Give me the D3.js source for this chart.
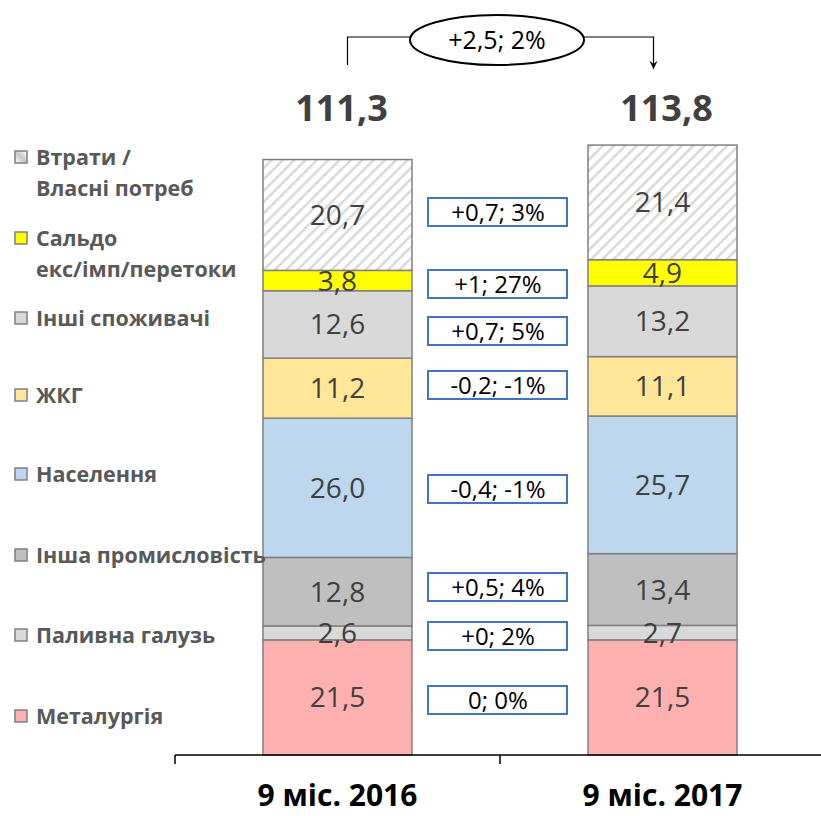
<!DOCTYPE html>
<html><head><meta charset="utf-8">
<script src="https://cdn.jsdelivr.net/npm/d3@7"></script>
<style>body{margin:0;background:#fff}svg{display:block}</style>
</head><body>
<svg id="c" width="821" height="816"></svg>
<script>
const categories = ["9 міс. 2016", "9 міс. 2017"];
const seriesNames = ["Металургія","Паливна галузь","Інша промисловість","Населення","ЖКГ","Інші споживачі","Сальдо екс/імп/перетоки","Втрати / Власні потреб"];
const values2016 = [21.5, 2.6, 12.8, 26.0, 11.2, 12.6, 3.8, 20.7];
const values2017 = [21.5, 2.7, 13.4, 25.7, 11.1, 13.2, 4.9, 21.4];
const totals = [111.3, 113.8];
const deltas = ["0; 0%","+0; 2%","+0,5; 4%","-0,4; -1%","-0,2; -1%","+0,7; 5%","+1; 27%","+0,7; 3%"];
const totalDelta = "+2,5; 2%";
const legendLines = [["Металургія"],["Паливна галузь"],["Інша промисловість"],["Населення"],["ЖКГ"],["Інші споживачі"],["Сальдо","екс/імп/перетоки"],["Втрати /","Власні потреб"]];
const colors = ["#FFB0B0","#D9D9D9","#BFBFBF","#BDD7EE","#FFE699","#D9D9D9","#FFFF00","url(#hatch)"];

const FONT = "'Open Sans', sans-serif";
const svg = d3.select("#c");
const defs = svg.append("defs");
const pat = defs.append("pattern").attr("id","hatch").attr("patternUnits","userSpaceOnUse")
  .attr("width",8).attr("height",8).attr("patternTransform","rotate(45)");
pat.append("rect").attr("width",8).attr("height",8).attr("fill","#fff");
pat.append("line").attr("x1",0).attr("y1",0).attr("x2",0).attr("y2",8).attr("stroke","#D9D9D9").attr("stroke-width",5);
const patL = defs.append("linearGradient").attr("id","hatchL").attr("x1",0).attr("y1",1).attr("x2",1).attr("y2",0);
patL.append("stop").attr("offset","0").attr("stop-color","#fff");
patL.append("stop").attr("offset","0.5").attr("stop-color","#C8C8C8");
patL.append("stop").attr("offset","1").attr("stop-color","#fff");

const x = d3.scaleBand().domain(categories).range([175, 825]).paddingInner(0).paddingOuter(0);
const barW = 149;
const y = d3.scaleLinear().domain([0, 111.3]).range([755, 159]);

const data = [values2016, values2017];
data.forEach((vals, ci) => {
  const cx = x(categories[ci]) + x.bandwidth()/2;
  let cum = 0;
  const segs = vals.map((v,i)=>{const s={v,i,y0:cum,y1:cum+v}; cum+=v; return s;});
  const g = svg.append("g");
  g.selectAll("rect").data(segs).join("rect")
    .attr("x", cx - barW/2).attr("width", barW)
    .attr("y", d=>y(d.y1)).attr("height", d=>y(d.y0)-y(d.y1))
    .attr("fill", d=>colors[d.i]).attr("stroke","#808080").attr("stroke-width",1.5);
  g.selectAll("text").data(segs).join("text")
    .attr("x", cx).attr("y", d=>(y(d.y0)+y(d.y1))/2 + 10)
    .attr("text-anchor","middle")
    .attr("font-family",FONT).attr("font-size",28).attr("fill","#404040")
    .text(d=>d.v.toFixed(1).replace(".",","));
  svg.append("text").attr("x", cx+4).attr("y", 121).attr("text-anchor","middle")
    .attr("font-family",FONT).attr("font-weight","bold").attr("font-size",36).attr("fill","#404040")
    .text(totals[ci].toFixed(1).replace(".",","));
});

// delta boxes
const midX = 497;
const dY = [700, 636, 587, 489, 385, 331, 284, 212];
deltas.forEach((t,i)=>{
  svg.append("rect").attr("x", midX-69).attr("y", dY[i]-14).attr("width",139).attr("height",28)
    .attr("fill","#fff").attr("stroke","#4472C4").attr("stroke-width",2);
  svg.append("text").attr("x", midX+1).attr("y", dY[i]+9).attr("text-anchor","middle")
    .attr("font-family",FONT).attr("font-size",24).attr("fill","#000").text(t);
});

// axis
const axisG = svg.append("g").attr("transform","translate(0,755)");
axisG.append("line").attr("x1",175).attr("x2",821).attr("stroke","#000").attr("stroke-width",1.5);
[175, 500, 825].forEach(t=>axisG.append("line").attr("x1",t).attr("x2",t).attr("y1",0).attr("y2",9).attr("stroke","#000").attr("stroke-width",1.5));
categories.forEach(c=>{
  svg.append("text").attr("x", x(c)+x.bandwidth()/2).attr("y", 806).attr("text-anchor","middle")
    .attr("font-family",FONT).attr("font-weight","bold").attr("font-size",30).attr("fill","#000").text(c);
});

// legend
const legY = [716, 635, 555, 474, 395, 318, 238, 157];
legendLines.forEach((lines,i)=>{
  svg.append("rect").attr("x",15).attr("y",legY[i]-6).attr("width",12).attr("height",12)
    .attr("fill",colors[i]==="url(#hatch)"?"url(#hatchL)":colors[i]).attr("stroke","#808080").attr("stroke-width",1.5);
  lines.forEach((l,j)=>{
    svg.append("text").attr("x",36).attr("y",legY[i]+j*31+7.5)
      .attr("font-family",FONT).attr("font-weight","bold").attr("font-size",21.5).attr("fill","#595959").text(l);
  });
});

// top connector
defs.append("marker").attr("id","arr").attr("viewBox","0 0 10 10").attr("refX",10).attr("refY",5)
  .attr("markerWidth",7).attr("markerHeight",9).attr("orient","auto")
  .append("path").attr("d","M0,0 L10,5 L0,10 L4,5 Z").attr("fill","#000");
const x1 = x(categories[0])+x.bandwidth()/2+10, x2 = x(categories[1])+x.bandwidth()/2-9;
svg.append("path").attr("d",`M${x1},65 V37 H${midX}`).attr("fill","none").attr("stroke","#000").attr("stroke-width",1.2);
svg.append("path").attr("d",`M${midX},37 H${x2} V69`).attr("fill","none").attr("stroke","#000").attr("stroke-width",1.2).attr("marker-end","url(#arr)");
svg.append("ellipse").attr("cx",midX).attr("cy",40).attr("rx",87).attr("ry",25).attr("fill","#fff").attr("stroke","#000").attr("stroke-width",2);
svg.append("text").attr("x",midX).attr("y",49).attr("text-anchor","middle")
  .attr("font-family",FONT).attr("font-size",25).attr("fill","#000").text(totalDelta);
</script>
</body></html>
